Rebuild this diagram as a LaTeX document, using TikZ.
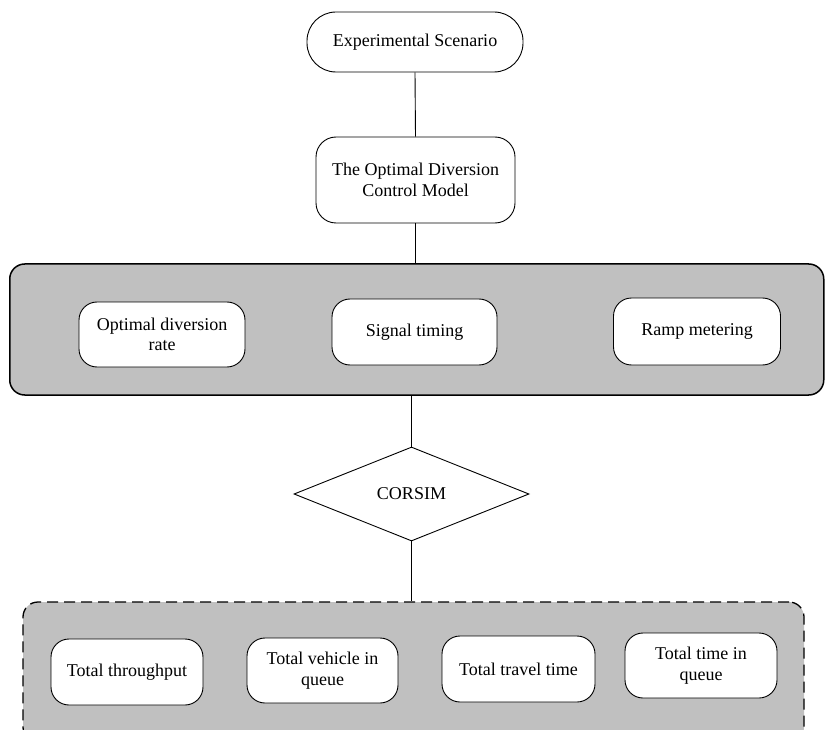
\documentclass[tikz,border=0pt]{standalone}
\usepackage{fontspec}
\setmainfont{Liberation Serif}
\usetikzlibrary{shapes.geometric}
\definecolor{panelgray}{RGB}{192,192,192}
\tikzset{
  x=1pt, y=-1pt,
  txt/.style={font=\fontsize{18}{20.5}\selectfont, align=center, inner sep=0pt},
  outerbox/.style={txt, draw, line width=0.9pt, fill=white},
  innerbox/.style={txt, draw, line width=0.9pt, fill=white, rounded corners=18pt},
  panelbox/.style={draw, fill=panelgray, rounded corners=15pt, inner sep=0pt},
  conn/.style={line width=0.9pt},
}
\begin{document}
\begin{tikzpicture}
\useasboundingbox (0,0) rectangle (825,730);
\clip (0,0) rectangle (825,730);
% top
\node[outerbox, rounded corners=29pt, minimum width=216pt, minimum height=60pt] (top) at (415,42) {Experimental Scenario};
\node[outerbox, rounded corners=20pt, minimum width=199pt, minimum height=86pt] (model) at (415.5,180) {The Optimal Diversion\\Control Model};
% middle panel
\node[panelbox, line width=1.5pt, minimum width=814pt, minimum height=131pt] (p1) at (416.75,329.5) {};
\node[innerbox, minimum width=166pt, minimum height=65pt] (rate) at (162,334.5) {Optimal diversion\\rate};
\node[innerbox, minimum width=165pt, minimum height=66pt] (signal) at (414.5,332) {Signal timing};
\node[innerbox, minimum width=167pt, minimum height=67pt] (ramp) at (697,331.5) {Ramp metering};
% diamond
\node[diamond, draw, line width=0.9pt, aspect=2.5, minimum width=235pt, minimum height=94pt, inner sep=0pt, font=\fontsize{18}{20.5}\selectfont] (corsim) at (411.5,494) {CORSIM};
% bottom panel
\node[panelbox, dashed, dash pattern=on 11pt off 6pt, line width=1.3pt, minimum width=781pt, minimum height=140pt] (p2) at (413.5,672) {};
\node[innerbox, minimum width=152pt, minimum height=66pt] (thr) at (127,672) {Total throughput};
\node[innerbox, minimum width=151pt, minimum height=65pt] (veh) at (322.5,670.5) {Total vehicle in\\queue};
\node[innerbox, minimum width=153pt, minimum height=66pt] (trav) at (518.5,669) {Total travel time};
\node[innerbox, minimum width=152pt, minimum height=65pt] (tiq) at (701,665.5) {Total time in\\queue};
% connectors
\draw[conn] (top.south) -- (model.north);
\draw[conn] (model.south) -- (model.south |- p1.north);
\draw[conn] (corsim.north |- p1.south) -- (corsim.north);
\draw[conn] (corsim.south) -- (corsim.south |- p2.north);
\end{tikzpicture}
\end{document}
